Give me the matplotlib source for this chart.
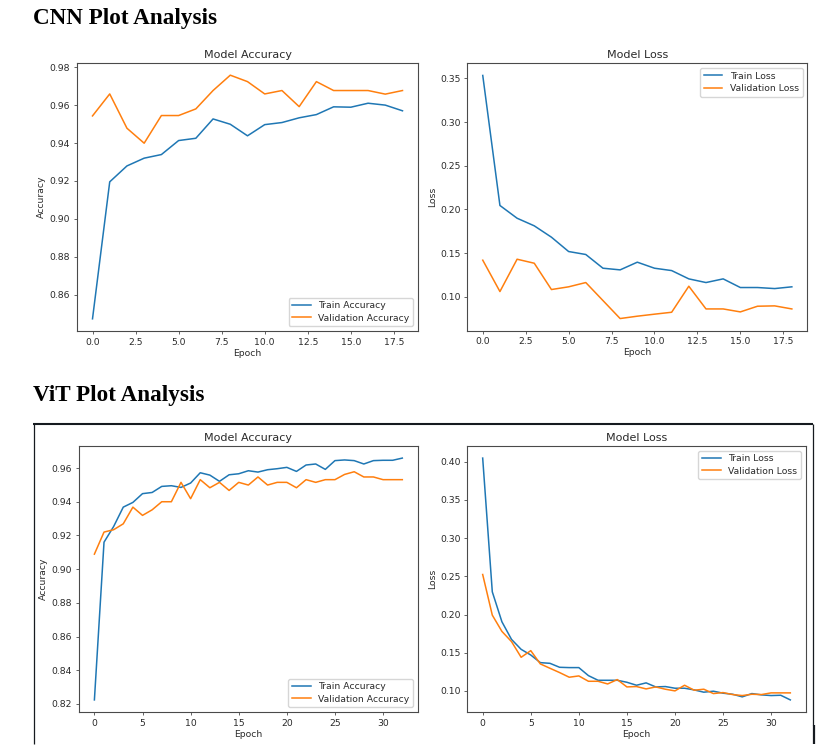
import matplotlib
matplotlib.use("Agg")
import matplotlib.pyplot as plt
from matplotlib.lines import Line2D

# ---------------- data ----------------
cnn_train_acc = [0.8472, 0.9195, 0.9279, 0.9320, 0.9339, 0.9413, 0.9425, 0.9527, 0.9499, 0.9438,
                 0.9497, 0.9508, 0.9533, 0.9550, 0.9591, 0.9589, 0.9610, 0.9600, 0.9570]
cnn_val_acc = [0.9543, 0.9659, 0.9478, 0.9399, 0.9545, 0.9545, 0.9580, 0.9677, 0.9758, 0.9724,
               0.9659, 0.9677, 0.9592, 0.9724, 0.9677, 0.9677, 0.9677, 0.9658, 0.9677]
cnn_train_loss = [0.3534, 0.2046, 0.1900, 0.1813, 0.1683, 0.1519, 0.1485, 0.1328, 0.1309, 0.1397,
                  0.1328, 0.1301, 0.1206, 0.1164, 0.1206, 0.1107, 0.1107, 0.1095, 0.1115]
cnn_val_loss = [0.1420, 0.1061, 0.1431, 0.1385, 0.1084, 0.1115, 0.1164, 0.0958, 0.0752, 0.0779,
                0.0802, 0.0824, 0.1122, 0.0862, 0.0862, 0.0828, 0.0893, 0.0897, 0.0862]

vit_train_acc = [0.8224, 0.9160, 0.9253, 0.9368, 0.9396, 0.9448, 0.9455, 0.9491, 0.9495, 0.9485,
                 0.9511, 0.9572, 0.9558, 0.9521, 0.9560, 0.9566, 0.9584, 0.9576, 0.9590, 0.9596,
                 0.9604, 0.9580, 0.9618, 0.9624, 0.9592, 0.9644, 0.9648, 0.9644, 0.9624, 0.9644,
                 0.9646, 0.9646, 0.9659]
vit_val_acc = [0.9089, 0.9220, 0.9234, 0.9269, 0.9368, 0.9319, 0.9352, 0.9400, 0.9400, 0.9515,
               0.9418, 0.9531, 0.9483, 0.9515, 0.9467, 0.9515, 0.9499, 0.9547, 0.9499, 0.9515,
               0.9515, 0.9483, 0.9531, 0.9515, 0.9531, 0.9531, 0.9562, 0.9578, 0.9547, 0.9547,
               0.9531, 0.9531, 0.9531]
vit_train_loss = [0.4048, 0.2297, 0.1905, 0.1674, 0.1544, 0.1470, 0.1370, 0.1361, 0.1309, 0.1305,
                  0.1305, 0.1200, 0.1139, 0.1139, 0.1139, 0.1113, 0.1074, 0.1105, 0.1052, 0.1057,
                  0.1035, 0.1035, 0.1013, 0.0983, 0.0996, 0.0970, 0.0956, 0.0922, 0.0965, 0.0948,
                  0.0939, 0.0943, 0.0882]
vit_val_loss = [0.2524, 0.1992, 0.1779, 0.1645, 0.1440, 0.1527, 0.1353, 0.1296, 0.1240, 0.1179,
                0.1196, 0.1126, 0.1126, 0.1091, 0.1148, 0.1052, 0.1057, 0.1026, 0.1052, 0.1022,
                0.1000, 0.1074, 0.1009, 0.1022, 0.0965, 0.0978, 0.0952, 0.0939, 0.0956, 0.0952,
                0.0974, 0.0974, 0.0974]

headings = ["CNN Plot Analysis", "ViT Plot Analysis"]
acc_labels = ["Train Accuracy", "Validation Accuracy"]
loss_labels = ["Train Loss", "Validation Loss"]

# ---------------- figure ----------------
W, H = 822, 747
fig = plt.figure(figsize=(W / 100, H / 100), dpi=100)
fig.patch.set_facecolor("white")

FS = 6.7
TXT = "#2a2a2a"
plt.rcParams.update({
    "font.family": ["DejaVu Sans"],
    "font.size": FS,
    "axes.edgecolor": "#4a4a4a",
    "axes.linewidth": 0.8,
    "xtick.color": "#4a4a4a",
    "ytick.color": "#4a4a4a",
    "xtick.labelcolor": TXT,
    "ytick.labelcolor": TXT,
    "xtick.major.size": 2.4,
    "ytick.major.size": 2.4,
    "xtick.major.width": 0.6,
    "ytick.major.width": 0.6,
    "xtick.major.pad": 2.4,
    "ytick.major.pad": 2.4,
})


def px_axes(l, r, t, b):
    return fig.add_axes([l / W, 1 - b / H, (r - l) / W, (b - t) / H])


C0, C1 = "#1f77b4", "#ff7f0e"


def draw(ax, train, val, labels, title, ylabel, loc):
    ep = list(range(len(train)))
    ax.plot(ep, train, color=C0, lw=1.1, label=labels[0])
    ax.plot(ep, val, color=C1, lw=1.1, label=labels[1])
    ax.set_title(title, fontsize=8.0, color=TXT, pad=3.5)
    ax.set_xlabel("Epoch", fontsize=FS, color=TXT, labelpad=1.5)
    ax.set_ylabel(ylabel, fontsize=FS, color=TXT, labelpad=2.5)
    ax.tick_params(labelsize=FS)
    leg = ax.legend(loc=loc, fontsize=FS, handlelength=2.0, borderpad=0.4,
                    labelspacing=0.35, framealpha=0.8)
    for t in leg.get_texts():
        t.set_color(TXT)


# CNN
ax1 = px_axes(77, 418, 63, 331)
draw(ax1, cnn_train_acc, cnn_val_acc, acc_labels, "Model Accuracy", "Accuracy", "lower right")
ax1.set_yticks([0.86, 0.88, 0.90, 0.92, 0.94, 0.96, 0.98])
ax1.set_yticklabels(["0.86", "0.88", "0.90", "0.92", "0.94", "0.96", "0.98"])

ax2 = px_axes(467.3, 807.3, 63.3, 330.7)
draw(ax2, cnn_train_loss, cnn_val_loss, loss_labels, "Model Loss", "Loss", "upper right")

# ViT
ax3 = px_axes(79, 417.7, 446, 712)
draw(ax3, vit_train_acc, vit_val_acc, acc_labels, "Model Accuracy", "Accuracy", "lower right")

ax4 = px_axes(467.3, 805.7, 446, 712)
draw(ax4, vit_train_loss, vit_val_loss, loss_labels, "Model Loss", "Loss", "upper right")

# headings
fig.text(33 / W, 1 - 24 / H, headings[0], family=["Liberation Serif", "DejaVu Serif"],
         weight="bold", fontsize=16.7, color="black", va="baseline", ha="left")
fig.text(33 / W, 1 - 401.5 / H, headings[1], family=["Liberation Serif", "DejaVu Serif"],
         weight="bold", fontsize=16.7, color="black", va="baseline", ha="left")

# ViT border box (open at the bottom)
bc = "#151a1f"


def seg(x0, y0, x1, y1, lw):
    fig.add_artist(Line2D([x0 / W, x1 / W], [1 - y0 / H, 1 - y1 / H], color=bc, lw=lw,
                          transform=fig.transFigure, solid_capstyle="butt"))


seg(33.5, 424.5, 33.5, 744, 0.9)
seg(33, 424.5, 813, 424.5, 1.5)
seg(812.5, 424.5, 812.5, 725, 0.9)
seg(813.5, 725, 813.5, 744, 1.6)

fig.savefig("out.png", dpi=100)
